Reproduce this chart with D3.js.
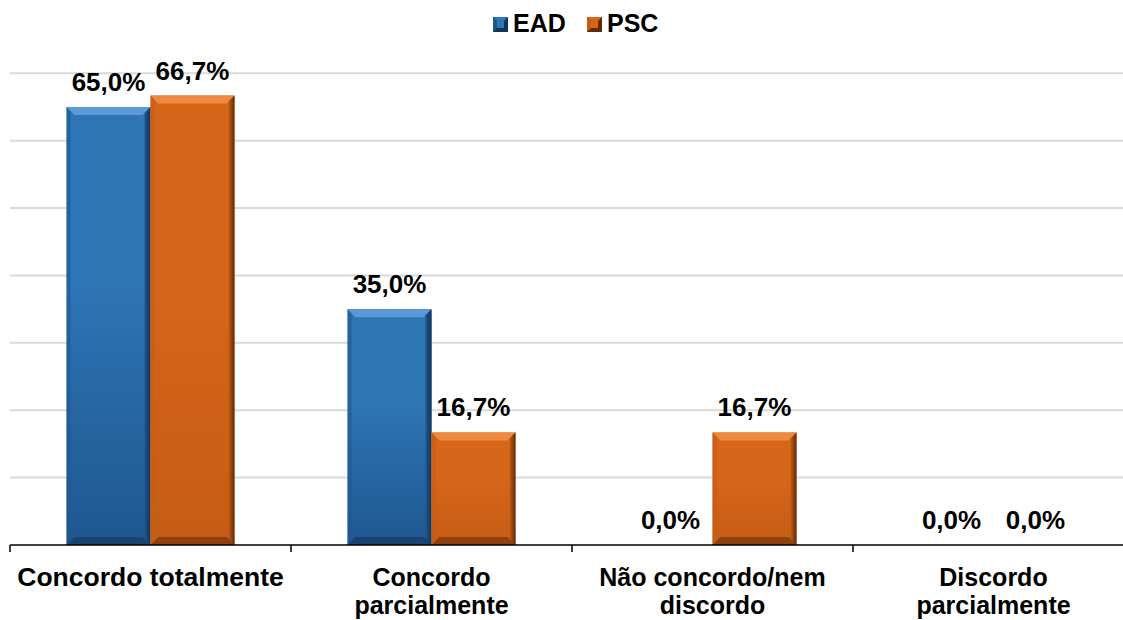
<!DOCTYPE html>
<html lang="pt">
<head>
<meta charset="UTF-8">
<title>EAD x PSC</title>
<script src="https://d3js.org/d3.v7.min.js"></script>
<style>
  body { margin:0; background:#fff; }
  svg { display:block; font-family: "Liberation Sans", Arial, sans-serif; }
</style>
</head>
<body>
<svg id="chart" width="1123" height="620"></svg>
<script>
// data
var categories = [["Concordo totalmente"], ["Concordo", "parcialmente"], ["Não concordo/nem", "discordo"], ["Discordo", "parcialmente"]];
var series = ["EAD", "PSC"];
var ead = [65.0, 35.0, 0.0, 0.0];
var psc = [66.7, 16.7, 16.7, 0.0];
var gridTicks = [0, 10, 20, 30, 40, 50, 60, 70];

var colors = {
  EAD: { top: "#5c9ad6", mid: "#2e75b6", bot: "#1f5790", side: "#123455" },
  PSC: { top: "#ee8a40", mid: "#d6661a", bot: "#c65c14", side: "#5e2a08" }
};

var svg = d3.select("#chart"),
    W = +svg.attr("width"), H = +svg.attr("height");

var y = d3.scaleLinear().domain([0, 70]).range([545, 73.3]);
var x0 = d3.scaleBand().domain(d3.range(categories.length)).range([10, 1134]).padding(0);
var x1 = d3.scaleBand().domain(series).range([0, x0.bandwidth()]).paddingInner(0).paddingOuter(0.673);

// gradients
var defs = svg.append("defs");
series.forEach(function(s) {
  var g = defs.append("linearGradient").attr("id", "g" + s)
    .attr("x1", 0).attr("y1", 0).attr("x2", 0).attr("y2", 1);
  g.append("stop").attr("offset", "0%").attr("stop-color", colors[s].mid);
  g.append("stop").attr("offset", "40%").attr("stop-color", colors[s].mid);
  g.append("stop").attr("offset", "100%").attr("stop-color", colors[s].bot);
  var h = defs.append("linearGradient").attr("id", "r" + s)
    .attr("x1", 0).attr("y1", 0).attr("x2", 1).attr("y2", 0);
  h.append("stop").attr("offset", "0%").attr("stop-color", colors[s].bot);
  h.append("stop").attr("offset", "100%").attr("stop-color", colors[s].side);
});

// gridlines
svg.append("g").selectAll("line")
  .data(gridTicks.slice(1))
  .enter().append("line")
    .attr("x1", 10).attr("x2", W)
    .attr("y1", function(d) { return y(d); })
    .attr("y2", function(d) { return y(d); })
    .attr("stroke", "#d9d9d9").attr("stroke-width", 2);

// bars
var rows = [];
categories.forEach(function(c, i) {
  rows.push({ cat: i, s: "EAD", v: ead[i] });
  rows.push({ cat: i, s: "PSC", v: psc[i] });
});

var bev = 8;
var bars = svg.append("g").selectAll("g.bar")
  .data(rows.filter(function(d) { return d.v > 0; }))
  .enter().append("g").attr("class", "bar");

bars.each(function(d) {
  var g = d3.select(this);
  var xl = x0(d.cat) + x1(d.s), xr = xl + x1.bandwidth();
  var yt = y(d.v), yb = y(0);
  var c = colors[d.s];
  var b = Math.min(bev, (yb - yt) / 2);
  g.append("rect").attr("x", xl).attr("y", yt).attr("width", xr - xl).attr("height", yb - yt)
    .attr("fill", "url(#g" + d.s + ")");
  // top bevel
  g.append("polygon").attr("points", [[xl, yt], [xr, yt], [xr - b, yt + b], [xl + b, yt + b]].join(" "))
    .attr("fill", c.top);
  // left bevel
  g.append("polygon").attr("points", [[xl, yt], [xl + 4, yt + 4], [xl + 4, yb - 4], [xl, yb]].join(" "))
    .attr("fill", c.bot).attr("opacity", 0.6);
  // right bevel
  g.append("polygon").attr("points", [[xr, yt], [xr, yb], [xr - 6, yb - 6], [xr - 6, yt + 6]].join(" "))
    .attr("fill", "url(#r" + d.s + ")");
  // bottom bevel
  g.append("polygon").attr("points", [[xl, yb], [xr, yb], [xr - b, yb - b], [xl + b, yb - b]].join(" "))
    .attr("fill", c.side).attr("opacity", 0.55);
});

// value labels
svg.append("g").selectAll("text")
  .data(rows)
  .enter().append("text")
    .attr("x", function(d) { return x0(d.cat) + x1(d.s) + x1.bandwidth() / 2; })
    .attr("y", function(d) { return y(d.v) - 16; })
    .attr("text-anchor", "middle")
    .attr("font-size", 26).attr("font-weight", "bold").attr("fill", "#000")
    .text(function(d) { return d.v.toFixed(1).replace(".", ",") + "%"; });

// x axis
var ax = svg.append("g");
ax.append("line").attr("x1", 10).attr("x2", W).attr("y1", 545).attr("y2", 545)
  .attr("stroke", "#000").attr("stroke-width", 1.5);
ax.selectAll("line.tick")
  .data(d3.range(categories.length + 1))
  .enter().append("line").attr("class", "tick")
    .attr("x1", function(i) { return 10 + i * x0.step(); })
    .attr("x2", function(i) { return 10 + i * x0.step(); })
    .attr("y1", 545).attr("y2", 552)
    .attr("stroke", "#000").attr("stroke-width", 1.5);

// category labels, one text per line
categories.forEach(function(lines, i) {
  ax.selectAll("text.cat" + i)
    .data(lines)
    .enter().append("text").attr("class", "cat" + i)
      .attr("x", x0(i) + x0.bandwidth() / 2)
      .attr("y", function(d, j) { return 586 + j * 28; })
      .attr("text-anchor", "middle")
      .attr("font-size", lines.length > 1 ? 25 : 26.5)
      .attr("font-weight", "bold").attr("fill", "#000")
      .text(function(d) { return d; });
});

// legend
var leg = svg.append("g");
var legX = [493, 587];
series.forEach(function(s, i) {
  var c = colors[s];
  var lx = legX[i], ly = 17, sz = 15;
  leg.append("rect").attr("x", lx).attr("y", ly).attr("width", sz).attr("height", sz).attr("fill", c.side);
  leg.append("polygon").attr("points", [[lx, ly], [lx + sz, ly], [lx + sz - 4, ly + 4], [lx + 4, ly + 4]].join(" "))
    .attr("fill", c.mid);
  leg.append("polygon").attr("points", [[lx, ly], [lx + 4, ly + 4], [lx + 4, ly + sz - 4], [lx, ly + sz]].join(" "))
    .attr("fill", c.bot);
  leg.append("rect").attr("x", lx + 4).attr("y", ly + 4).attr("width", sz - 8).attr("height", sz - 8).attr("fill", c.mid);
  leg.append("text").attr("x", lx + sz + 5).attr("y", ly + 15)
    .attr("font-size", 25).attr("font-weight", "bold").attr("fill", "#000").text(s);
});
</script>
</body>
</html>
